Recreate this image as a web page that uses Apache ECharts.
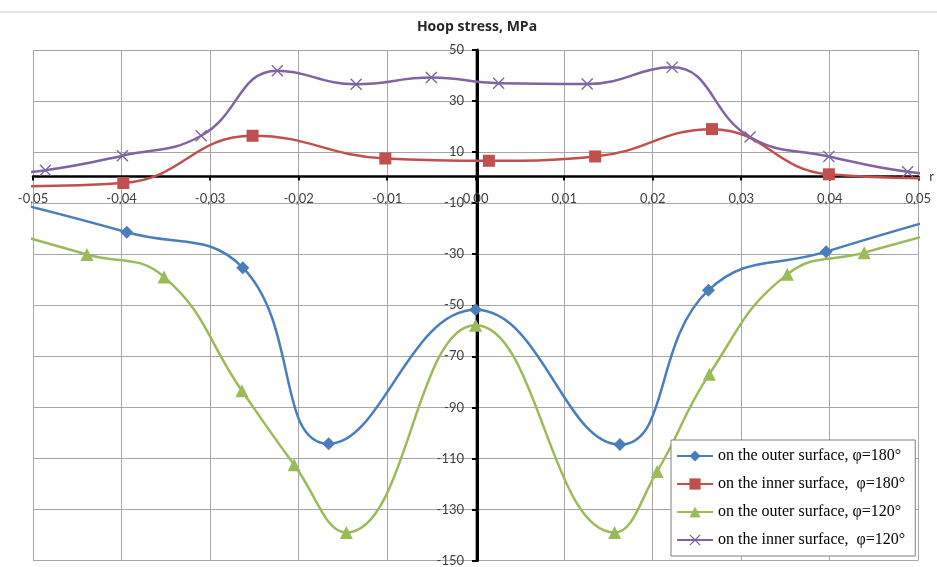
<!DOCTYPE html>
<html>
<head>
<meta charset="utf-8">
<script src="https://cdn.jsdelivr.net/npm/echarts@6/dist/echarts.min.js"></script>
<style>
    html, body { margin: 0; padding: 0; background: #fff; }
    #chart { width: 937px; height: 567px; }
</style>
</head>
<body>
<div id="chart"></div>
<script>
// Data (r in m, stress in MPa)
const outer180X = [-0.053, -0.0394, -0.0263, -0.0166, 0, 0.0163, 0.0263, 0.0396, 0.053];
const outer180Y = [-9, -21.4, -35.3, -104.3, -51.8, -104.6, -44.1, -29.0, -15.3];

const inner180X = [-0.053, -0.0398, -0.0252, -0.0102, 0.0015, 0.0135, 0.0267, 0.0399, 0.053];
const inner180Y = [-3.4, -2.1, 16.4, 7.5, 6.6, 8.3, 19.0, 1.3, -0.3];

const outer120X = [-0.0527, -0.0439, -0.0352, -0.0264, -0.0205, -0.0146, 0, 0.0157, 0.0205, 0.0264, 0.0352, 0.0439, 0.0527];
const outer120Y = [-21.5, -30.1, -38.9, -83.5, -112.5, -139, -57.8, -139, -115.1, -77, -37.9, -29.4, -21];

const inner120X = [-0.0575, -0.0486, -0.0399, -0.0310, -0.0224, -0.0135, -0.0050, 0.0026, 0.0126, 0.0222, 0.0310, 0.0399, 0.0488, 0.0575];
const inner120Y = [0.5, 2.9, 8.6, 16.4, 41.9, 36.6, 39.2, 37.0, 36.7, 43.2, 15.9, 8.3, 2.3, 0.5];

const seriesNames = [
    'on the outer surface, φ=180°',
    'on the inner surface,  φ=180°',
    'on the outer surface, φ=120°',
    'on the inner surface,  φ=120°'
];

const crossSymbol = 'path://M0,0.8L0.8,0L5,4.2L9.2,0L10,0.8L5.8,5L10,9.2L9.2,10L5,5.8L0.8,10L0,9.2L4.2,5Z';

// grid box: x from 33 to 921, y from 50 to 562; axes cross at (0, 0)
const GRID = { left: 33, right: 16, top: 50, bottom: 5 };
const X_AXIS_SHIFT = -384;  // bottom edge -> y = 0
const Y_AXIS_SHIFT = -444;  // left edge -> x = 0

function pairs(xs, ys) {
    return xs.map((x, i) => [x, ys[i]]);
}

function makeSeries(name, xs, ys, color, symbol, size) {
    return {
        name: name,
        type: 'line',
        smooth: 0.45,
        clip: true,
        data: pairs(xs, ys),
        symbol: symbol,
        symbolSize: size,
        showAllSymbol: true,
        lineStyle: { color: color, width: 2.5 },
        itemStyle: { color: color },
        emphasis: { disabled: true }
    };
}

const chart = echarts.init(document.getElementById('chart'));

const labelFont = { fontFamily: 'Lato', fontSize: 13, color: '#404040' };

const option = {
    animation: false,
    backgroundColor: '#fff',
    graphic: [
        {
            type: 'line',
            shape: { x1: 0, y1: 12, x2: 937, y2: 12 },
            style: { stroke: '#c8c8c8', lineWidth: 1 }
        }
    ],
    grid: GRID,
    legend: {
        orient: 'vertical',
        left: 671,
        top: 440,
        padding: [8, 10, 8, 5],
        itemGap: 12,
        itemWidth: 36,
        itemHeight: 14,
        backgroundColor: '#fff',
        borderColor: '#808080',
        borderWidth: 1,
        textStyle: { fontFamily: 'Liberation Serif', fontSize: 16, color: '#000' },
        data: seriesNames
    },
    xAxis: {
        type: 'value',
        position: 'bottom',
        offset: X_AXIS_SHIFT,
        min: -0.05,
        max: 0.05,
        interval: 0.01,
        name: 'r',
        nameGap: 11,
        nameTextStyle: { fontFamily: 'Lato', fontSize: 13, color: '#404040' },
        axisLine: { onZero: false, lineStyle: { color: '#000', width: 2.5 } },
        axisTick: { show: true, length: 4, lineStyle: { color: '#000', width: 2 } },
        axisLabel: Object.assign({
            margin: 16,
            formatter: v => v.toFixed(2).replace('.', ',')
        }, labelFont),
        splitLine: { show: true, lineStyle: { color: '#a6a6a6', width: 1 } }
    },
    yAxis: {
        type: 'value',
        position: 'left',
        offset: Y_AXIS_SHIFT,
        min: -150,
        max: 50,
        interval: 20,
        name: 'Hoop stress, MPa',
        nameGap: 16,
        nameTextStyle: { fontFamily: 'Open Sans', fontSize: 14, fontWeight: 'bold', color: '#262626' },
        axisLine: { onZero: false, lineStyle: { color: '#000', width: 3 } },
        axisTick: { show: true, length: 5, lineStyle: { color: '#000', width: 2 } },
        axisLabel: Object.assign({ margin: 13 }, labelFont),
        splitLine: { show: true, lineStyle: { color: '#a6a6a6', width: 1 } }
    },
    series: [
        makeSeries(seriesNames[0], outer180X, outer180Y, '#4a7ebb', 'diamond', 13),
        makeSeries(seriesNames[1], inner180X, inner180Y, '#c0504d', 'rect', 12),
        makeSeries(seriesNames[2], outer120X, outer120Y, '#9bbb59', 'triangle', 13),
        makeSeries(seriesNames[3], inner120X, inner120Y, '#8064a2', crossSymbol, 12)
    ]
};

chart.setOption(option);
</script>
</body>
</html>
